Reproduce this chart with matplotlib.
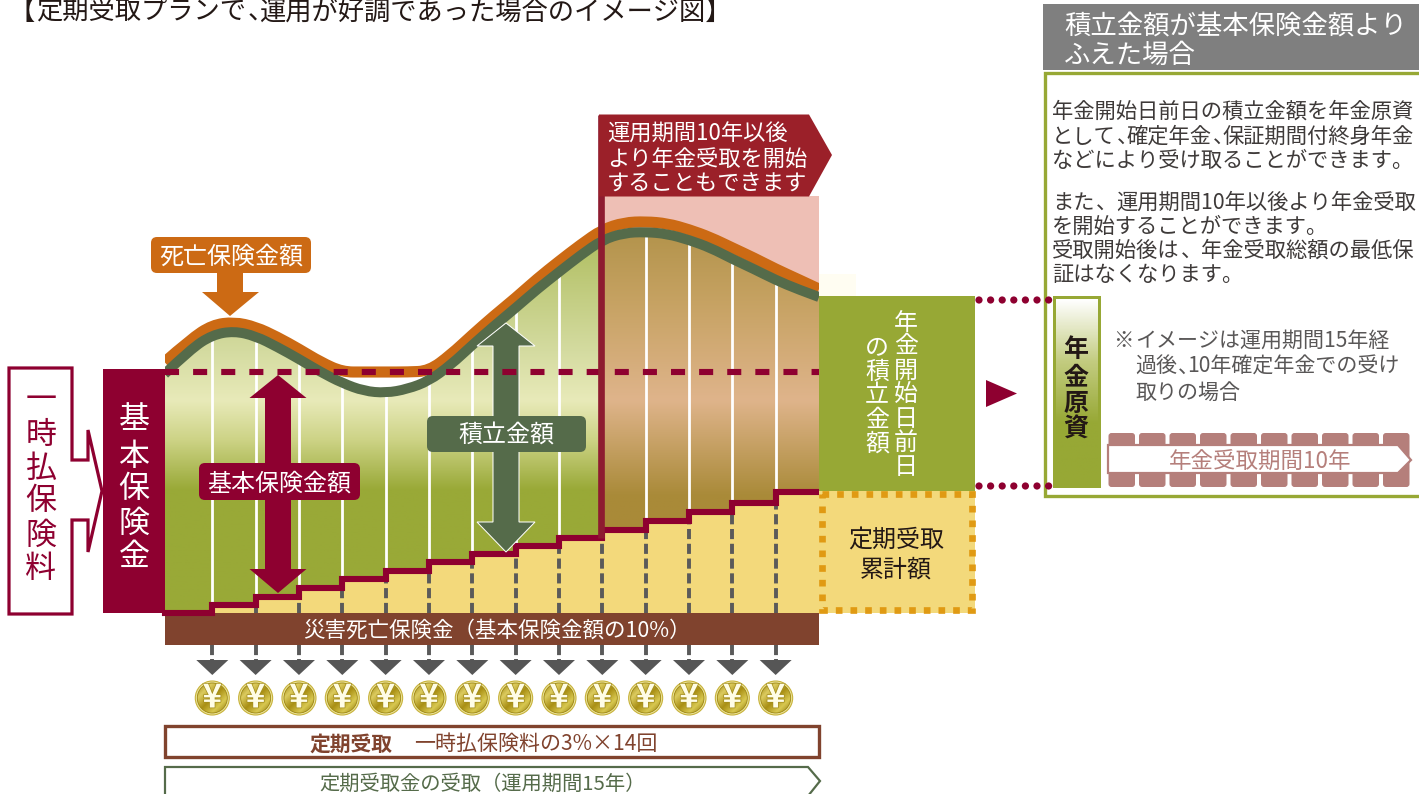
import numpy as np
import matplotlib
matplotlib.use("Agg")
import matplotlib.pyplot as plt
import matplotlib.patheffects as pe
from matplotlib.colors import LinearSegmentedColormap
from matplotlib.patches import Circle, FancyBboxPatch, PathPatch, Polygon, Rectangle
from matplotlib.path import Path

plt.rcParams["font.family"] = ["Noto Sans CJK JP", "DejaVu Sans"]

# 金額は基本保険金額を100とした相対値
curve_years = [-0.1, 0.5, 1, 1.5, 2, 2.5, 3, 3.5, 4, 4.5, 5, 5.5, 6, 6.5, 7, 7.5,
               8, 8.5, 9, 9.5, 10, 10.5, 11, 11.5, 12, 12.5, 13, 13.5, 14, 14.5, 15]
reserve = [99.2, 109.5, 115.4, 117.0, 114.9, 110.4, 105.4, 100.0, 95.4, 92.1, 91.3,
           92.9, 96.3, 102.9, 111.2, 119.1, 126.6, 134.4, 141.5, 148.5, 154.8,
           157.7, 158.1, 157.3, 154.8, 151.5, 146.9, 142.7, 138.2, 134.4, 131.1]
death_benefit = [104.1, 113.6, 119.5, 120.7, 118.7, 114.5, 109.5, 104.1, 100, 100, 100,
                 100, 100.4, 107.1, 115.4, 123.3, 130.7, 138.7, 145.9, 152.8, 159.1,
                 162.0, 162.4, 161.6, 159.1, 155.8, 151.5, 147.3, 142.7, 138.6, 134.4]
payment_years = list(range(1, 15))
cumulative = [3.3, 6.6, 10.4, 14.1, 17.4, 21.2, 24.5, 27.8, 31.1, 34.4, 38.2, 41.9, 45.6, 50.2]
basic_amount = 100
start_year = 10
disaster_amount = 13.3

title = "【定期受取プランで、運用が好調であった場合のイメージ図】"
panel_head = ["積立金額が基本保険金額より", "ふえた場合"]
panel_text = [
    "年金開始日前日の積立金額を年金原資",
    "として、確定年金、保証期間付終身年金",
    "などにより受け取ることができます。",
    "また、運用期間10年以後より年金受取",
    "を開始することができます。",
    "受取開始後は、年金受取総額の最低保",
    "証はなくなります。",
]
banner_text = ["運用期間10年以後", "より年金受取を開始", "することもできます"]
note_text = ["イメージは運用期間15年経", "過後、10年確定年金での受け", "取りの場合"]

MAROON = "#8e0030"
ORANGE = "#cc6a14"
GREEN = "#556b4a"
OLIVE = "#97a835"
YELLOW = "#f3d97b"
BROWN = "#80432e"
ROSE = "#b57f7b"
W, H = 1419, 794

fig = plt.figure(figsize=(W / 100, H / 100), dpi=100, facecolor="white")

# グラフ本体
ax = fig.add_axes([165 / W, (H - 613) / H, 654 / W, 513 / H], zorder=1)
ax.set_xlim(-0.0914, 15)
ax.set_ylim(0, 513 / 2.41)
ax.axis("off")

# 装飾用(座標はピクセル)
ov = fig.add_axes([0, 0, 1, 1], zorder=2)
ov.set_xlim(0, W)
ov.set_ylim(H, 0)
ov.axis("off")
ov.patch.set_alpha(0)


def year_x(t):
    return 165 + (t + 0.0914) * 654 / 15.0914


def smooth_path(xs, ys):
    # 読み取り点を制御点にした2次ベジェ
    pts = np.column_stack([xs, ys])
    verts = [pts[0]]
    codes = [Path.MOVETO]
    for i in range(1, len(pts) - 1):
        end = (pts[i] + pts[i + 1]) / 2 if i < len(pts) - 2 else pts[i + 1]
        verts += [pts[i], end]
        codes += [Path.CURVE3, Path.CURVE3]
    return verts, codes


def txt(x, y, s, px, color="white", ha="center", va="center", **kw):
    kw.setdefault("zorder", 6)
    return ov.text(x, y + 2, s, fontsize=px * 0.72, color=color, ha=ha, va=va, **kw)


def jtext(x, y, s, px, color, gap=0.5):
    # 読点を詰めて左から並べる
    renderer = fig.canvas.get_renderer()
    parts = s.split("、")
    for i, part in enumerate(parts):
        t = txt(x, y, part, px, color, ha="left")
        x += t.get_window_extent(renderer).width
        if i < len(parts) - 1:
            txt(x + px * 0.06, y, "、", px, color, ha="left")
            x += px * gap


def vtext(x, ys, s, px, color="white", **kw):
    for y, c in zip(ys, s):
        txt(x, y, c, px, color, **kw)


def poly(points, fc="none", ec="none", lw=0, z=3, **kw):
    p = Polygon(points, closed=True, facecolor=fc, edgecolor=ec, linewidth=lw * 0.72, zorder=z, **kw)
    ov.add_patch(p)
    return p


def rrect(x0, y0, x1, y1, fc, r=6, z=4):
    ov.add_patch(FancyBboxPatch((x0, y0), x1 - x0, y1 - y0, boxstyle=f"round,pad=0,rounding_size={r}",
                                facecolor=fc, edgecolor="none", zorder=z))


def double_arrow(xc, top, head_top, head_bottom, bottom, stem, head, color, ec="none", lw=0):
    poly([(xc, top), (xc + head, head_top), (xc + stem, head_top), (xc + stem, head_bottom),
          (xc + head, head_bottom), (xc, bottom), (xc - head, head_bottom), (xc - stem, head_bottom),
          (xc - stem, head_top), (xc - head, head_top)], fc=color, ec=ec, lw=lw)


def gradient(axes, extent, cmap, clip):
    im = axes.imshow(np.linspace(0, 1, 256)[:, None], extent=extent, cmap=cmap, vmin=0, vmax=1,
                     aspect="auto", origin="upper", zorder=2)
    im.set_clip_path(clip)
    return im


# 背景グラデーション
top_value = 173
ax.add_patch(Rectangle((start_year, 0), 15 - start_year, top_value, facecolor="#eebfb5", edgecolor="none", zorder=1))
green_cmap = LinearSegmentedColormap.from_list("green_fill", [
    (0, "#a3b44a"), (0.37, "#d4dba0"), (0.49, "#e8eab9"), (0.585, "#cdd386"), (0.705, "#99a937"), (1, "#99a937")])
brown_cmap = LinearSegmentedColormap.from_list("brown_fill", [
    (0, "#a98c40"), (0.25, "#c6a262"), (0.49, "#dfb48b"), (0.72, "#a98a38"), (1, "#a98a38")])
verts, codes = smooth_path(curve_years, reserve)
verts = verts + [(15, 0), (-0.1, 0), (-0.1, reserve[0])]
codes = codes + [Path.LINETO, Path.LINETO, Path.CLOSEPOLY]
clip = PathPatch(Path(verts, codes), transform=ax.transData, facecolor="none", edgecolor="none")
ax.add_patch(clip)
gradient(ax, (-0.0914, start_year, 0, top_value), green_cmap, clip)
gradient(ax, (start_year, 15, 0, top_value), brown_cmap, clip)
ax.set_xlim(-0.0914, 15)
ax.set_ylim(0, 513 / 2.41)

# 定期受取の累計
step_x = [-0.1] + payment_years + [15]
step_y = [0] + cumulative + [cumulative[-1]]
ax.fill_between(step_x, 0, step_y, step="post", color=YELLOW, linewidth=0, zorder=3)
for i, t in enumerate(payment_years):
    ax.plot([t, t], [cumulative[i], reserve[curve_years.index(t)]], color="white", lw=2.0, zorder=3, solid_capstyle="butt")
    lower = step_y[i]
    if lower > 0:
        ax.plot([t, t], [0, lower], color="#5a5a5a", lw=2.8, dashes=(2.6, 1.2), zorder=4)
ax.step(step_x, step_y, where="post", color=MAROON, lw=4.4, zorder=5, clip_on=False, solid_joinstyle="miter")

# 死亡保険金額と積立金額のカーブ
for values, color, lw, z in [(death_benefit, ORANGE, 8.0, 6), (reserve, GREEN, 7.2, 7)]:
    v, c = smooth_path(curve_years, values)
    ax.add_patch(PathPatch(Path(v, c), facecolor="none", edgecolor=color, lw=lw, zorder=z, capstyle="butt"))

# 災害死亡保険金の帯
ax.add_patch(Rectangle((-0.0914, -disaster_amount), 15.0914, disaster_amount, facecolor=BROWN, edgecolor="none",
                       zorder=4, clip_on=False))
txt(497, 629, "災害死亡保険金（基本保険金額の10%）", 21.5)

# 左の一時払保険料と基本保険金
poly([(9, 368), (72, 368), (72, 460), (88, 460), (88, 430), (102, 491), (88, 552), (88, 520), (72, 520),
      (72, 614), (9, 614)], fc="white", ec=MAROON, lw=3.2)
vtext(41, [399, 433, 467, 500, 534, 568], "一時払保険料", 31, MAROON)
ov.add_patch(Rectangle((103, 369), 62, 244, facecolor=MAROON, edgecolor="none", zorder=3))
vtext(134, [418, 455, 488, 522, 555], "基本保険金", 31)

# 吹き出しと矢印
rrect(151, 237, 311, 273, ORANGE)
txt(231, 255, "死亡保険金額", 24)
poly([(217, 273), (243, 273), (243, 292), (259, 292), (230, 316), (202, 292), (217, 292)], fc=ORANGE)

double_arrow(278, 375, 398, 569, 593, 13, 28.5, MAROON)
rrect(199, 463, 360, 500, MAROON)
txt(279, 482, "基本保険金額", 24)

double_arrow(506, 323, 346, 522, 552, 13, 29, GREEN, ec="white", lw=1)
rrect(427, 416, 586, 452, GREEN)
txt(506, 434, "積立金額", 24)

# 基本保険金額の点線
base_y = 613 - basic_amount * 2.41
ov.plot([165, 819], [base_y, base_y], color=MAROON, lw=4.4, dashes=(2.3, 2.3), zorder=5, dash_capstyle="butt")

# 年金開始ライン
bar_x = year_x(start_year)
ov.plot([bar_x - 1, bar_x - 1], [115, 613 - cumulative[start_year - 1] * 2.41 + 8], color="#8e1b30", lw=4.8,
        zorder=5, solid_capstyle="butt")
poly([(599, 114.5), (809, 114.5), (832, 155), (809, 196.5), (599, 196.5)], fc="#9b2029", z=5)
for y, line in zip([132, 157.5, 182.5], banner_text):
    txt(607, y, line, 22.3, ha="left")

# 右の積立金額と累計額
ov.add_patch(Rectangle((819, 274), 37, 22, facecolor="#fffdf2", edgecolor="none", zorder=3))
ov.add_patch(Rectangle((819, 296), 156, 195, facecolor=OLIVE, edgecolor="none", zorder=3))
vtext(906, [321, 345, 369, 393, 417, 441, 465], "年金開始日前日", 24)
vtext(877, [346, 370, 394, 418, 442], "の積立金額", 24)
ov.add_patch(Rectangle((819, 491), 156, 122, facecolor=YELLOW, edgecolor="none", zorder=3))
ov.add_patch(Rectangle((822.3, 494.3), 149.4, 115.4, facecolor="none", edgecolor="#e09a13", lw=4.8, zorder=3,
                       linestyle=(0, (1.0, 1.2))))
txt(896, 539, "定期受取", 24, "#231815")
txt(896, 568, "累計額", 24, "#231815")

# 受取の矢印とコイン
coin_cmap = LinearSegmentedColormap.from_list("coin", ["#9a8210", "#dccb5e", "#a98f14", "#d8c850", "#927a0c"])
gx, gy = np.meshgrid(np.linspace(0, 1, 40), np.linspace(0, 1, 40))
for t in payment_years:
    x = year_x(t)
    ov.plot([x, x], [645, 662], color="#5a5a5a", lw=2.8, dashes=(2.6, 1.0), zorder=3)
    poly([(x - 16, 660), (x + 16, 660), (x, 675)], fc="#565656")
    ov.add_patch(Circle((x, 698), 17, facecolor="#ece39a", edgecolor="#c7b23a", lw=0.8, zorder=3))
    disc = Circle((x, 698), 15, facecolor="none", edgecolor="#9c8612", lw=0.6, zorder=4)
    ov.add_patch(disc)
    im = ov.imshow((gx + gy) / 2, extent=(x - 15, x + 15, 713, 683), cmap=coin_cmap, aspect="auto", zorder=3.5)
    im.set_clip_path(disc)
    txt(x, 696, "¥", 33, "#fffde6", fontweight="bold",
        path_effects=[pe.withStroke(linewidth=1.0, foreground="#a38d1c")])
ov.set_xlim(0, W)
ov.set_ylim(H, 0)

# 下の帯
ov.add_patch(Rectangle((165, 726), 654, 31, facecolor="white", edgecolor=BROWN, lw=2.4, zorder=3))
txt(310, 742, "定期受取", 20.8, BROWN, ha="left", fontweight="bold")
txt(414, 742, "一時払保険料の3%×14回", 21, BROWN, ha="left")
poly([(165, 767), (808, 767), (820, 781), (808, 796), (165, 796)], fc="white", ec=GREEN, lw=2.2)
txt(483, 782, "定期受取金の受取（運用期間15年）", 20.3, GREEN)

txt(9, 10, title[0], 26.3, "#231815", ha="left")
jtext(36, 10, title[1:], 26.3, "#231815")

# 右パネル
poly([(986, 380), (1017, 393.5), (986, 407)], fc=MAROON)
for y in [300, 486]:
    for x in np.arange(979, 1050, 11.6):
        ov.add_patch(Circle((x, y), 3.6, facecolor=MAROON, edgecolor="none", zorder=4))
ov.add_patch(Rectangle((1043, 4), 380, 66, facecolor="#7f7f7f", edgecolor="none", zorder=3))
txt(1064, 25, panel_head[0], 26.4, ha="left")
txt(1064, 53, panel_head[1], 26.4, ha="left")
ov.add_patch(Rectangle((1044.5, 73), 380, 423, facecolor="white", edgecolor=OLIVE, lw=2.4, zorder=2, clip_on=True))
for y, line in zip([110, 135, 159, 201, 225, 249, 273], panel_text):
    jtext(1052, y, line, 21.3, "#3e3a39", gap=0.5 if line.count("、") > 1 else 1.0)

# 年金原資
ov.add_patch(Rectangle((1053, 296), 48, 192, facecolor=OLIVE, edgecolor="none", zorder=3))
fund_cmap = LinearSegmentedColormap.from_list("fund", ["#ffffff", "#c3cc80", OLIVE, OLIVE])
ov.imshow(np.linspace(0, 1, 200)[:, None], extent=(1056, 1098, 485, 299), cmap=fund_cmap, aspect="auto", zorder=3.5)
ov.set_xlim(0, W)
ov.set_ylim(H, 0)
vtext(1076, [348, 375, 402, 428], "年金原資", 25, "#231815", fontweight="bold")

txt(1113, 339, "※", 20.5, "#595757", ha="left")
for y, line in zip([339, 365, 391], note_text):
    jtext(1135, y, line, 21, "#595757")

# 年金受取期間
for i in range(10):
    rrect(1108.5 + i * 30.5, 433, 1135 + i * 30.5, 487, ROSE, r=3, z=3)
poly([(1108, 445), (1398, 445), (1411, 460), (1398, 473), (1108, 473)], fc="white", ec=ROSE, lw=2.2, z=3.5)
txt(1260, 460, "年金受取期間10年", 22.5, ROSE)

fig.savefig("out.png", dpi=100)
